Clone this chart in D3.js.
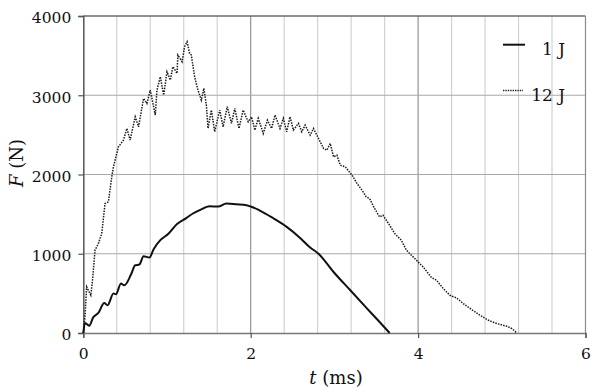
<!DOCTYPE html>
<html>
<head>
<meta charset="utf-8">
<script src="https://cdn.jsdelivr.net/npm/d3@7.9.0/dist/d3.min.js"></script>
<style>
  body { margin: 0; background: #fff; }
  svg { display: block; font-family: "DejaVu Serif", "Liberation Serif", serif; }
</style>
</head>
<body>
<svg id="chart" width="600" height="392"></svg>
<script>
// [t (ms), F (N)]
const series1J = [
  [0, 0], [0.02, 126], [0.07, 93], [0.12, 200], [0.18, 253], [0.25, 379], [0.29, 350],
  [0.36, 497], [0.39, 489], [0.45, 624], [0.49, 602], [0.57, 738], [0.62, 855], [0.67, 864],
  [0.72, 969], [0.79, 952], [0.84, 1057], [0.92, 1171], [1.02, 1255], [1.12, 1375],
  [1.23, 1450], [1.31, 1508], [1.39, 1550], [1.51, 1600], [1.61, 1595], [1.71, 1634],
  [1.83, 1624], [1.95, 1613], [2.11, 1545], [2.27, 1448], [2.43, 1339], [2.59, 1200],
  [2.71, 1079], [2.81, 1000], [2.99, 770], [3.19, 539], [3.38, 321], [3.54, 139], [3.66, 0]
];

const series12J = [
  [0, 0], [0.02, 202], [0.04, 581], [0.09, 476], [0.11, 666], [0.14, 1045], [0.18, 1129],
  [0.22, 1255], [0.26, 1634], [0.30, 1655], [0.34, 1970], [0.36, 2097], [0.42, 2349],
  [0.48, 2434], [0.52, 2581], [0.56, 2434], [0.62, 2728], [0.66, 2602], [0.72, 2960],
  [0.76, 2897], [0.80, 3065], [0.86, 2750], [0.88, 3065], [0.92, 3233], [0.96, 3002],
  [1.00, 3296], [1.04, 3192], [1.07, 3360], [1.12, 3276], [1.13, 3507], [1.18, 3423],
  [1.21, 3612], [1.24, 3675], [1.27, 3529], [1.29, 3507], [1.33, 3233], [1.37, 3065],
  [1.41, 2939], [1.44, 3087], [1.47, 2876], [1.49, 2581], [1.53, 2813], [1.57, 2539],
  [1.63, 2813], [1.67, 2602], [1.72, 2855], [1.77, 2645], [1.81, 2834], [1.86, 2581],
  [1.91, 2813], [1.97, 2665], [2.01, 2728], [2.05, 2560], [2.09, 2708], [2.15, 2518],
  [2.20, 2686], [2.25, 2581], [2.29, 2750], [2.35, 2581], [2.39, 2708], [2.43, 2539],
  [2.47, 2728], [2.51, 2560], [2.57, 2645], [2.61, 2539], [2.65, 2623], [2.71, 2497],
  [2.75, 2581], [2.81, 2455], [2.87, 2329], [2.91, 2307], [2.95, 2392], [2.99, 2223],
  [3.03, 2244], [3.07, 2118], [3.13, 2097], [3.21, 1992], [3.27, 1887], [3.33, 1802],
  [3.38, 1718], [3.42, 1697], [3.48, 1571], [3.54, 1465], [3.58, 1487], [3.66, 1360],
  [3.72, 1255], [3.80, 1171], [3.86, 1045], [3.98, 918], [4.06, 834], [4.16, 700],
  [4.22, 666], [4.30, 561], [4.38, 476], [4.46, 442], [4.54, 371], [4.64, 296],
  [4.74, 224], [4.84, 160], [4.94, 119], [5.06, 85], [5.12, 56], [5.18, 0]
];

const xTicks = [0, 2, 4, 6];
const xGrid = d3.range(0, 6.01, 0.4);
const yTicks = [0, 1000, 2000, 3000, 4000];
const legendLabels = ["1 J", "12 J"];

const svg = d3.select('#chart');
const margin = { top: 16, right: 14.5, bottom: 59, left: 83.3 };
const width = 600, height = 392;

const x = d3.scaleLinear().domain([0, 6]).range([margin.left, width - margin.right]);
const y = d3.scaleLinear().domain([0, 4000]).range([height - margin.bottom, margin.top]);

// vertical gridlines every 0.4 ms (the ones at 2 and 4 are darker)
svg.append('g')
  .selectAll('line')
  .data(xGrid.filter(d => d > 0.01 && d < 5.99))
  .join('line')
  .attr('x1', d => x(d)).attr('x2', d => x(d))
  .attr('y1', y(0)).attr('y2', y(4000))
  .attr('stroke', d => (Math.abs(d - 2) < 0.01 || Math.abs(d - 4) < 0.01) ? '#8a8a8a' : '#cfcfcf')
  .attr('stroke-width', 1.1);

// horizontal gridlines
svg.append('g')
  .selectAll('line')
  .data([1000, 2000, 3000])
  .join('line')
  .attr('x1', x(0)).attr('x2', x(6))
  .attr('y1', d => y(d)).attr('y2', d => y(d))
  .attr('stroke', '#a8a8a8')
  .attr('stroke-width', 1.2);

// frame
svg.append('line').attr('x1', x(0)).attr('x2', x(6)).attr('y1', y(4000)).attr('y2', y(4000))
  .attr('stroke', '#6a6a6a').attr('stroke-width', 1.3);
svg.append('line').attr('x1', x(6)).attr('x2', x(6)).attr('y1', y(0)).attr('y2', y(4000))
  .attr('stroke', '#8a8a8a').attr('stroke-width', 1.2);

// axes
const yAxis = svg.append('g')
  .attr('transform', `translate(${x(0)},0)`)
  .call(d3.axisLeft(y).tickValues(yTicks).tickSize(5).tickPadding(7).tickFormat(d3.format('d')));
yAxis.select('.domain').attr('stroke', '#555').attr('stroke-width', 1.5);
yAxis.selectAll('.tick line').attr('stroke', '#555').attr('stroke-width', 1.2);
yAxis.selectAll('text').attr('font-size', 15.5).attr('fill', '#111')
  .attr('font-family', '"DejaVu Serif", serif').attr('dy', '0.45em');

const xAxis = svg.append('g')
  .attr('transform', `translate(0,${y(0)})`)
  .call(d3.axisBottom(x).tickValues(xTicks).tickSize(5).tickPadding(10).tickFormat(d3.format('d')));
xAxis.select('.domain').attr('stroke', '#777').attr('stroke-width', 1.5);
xAxis.selectAll('.tick line').attr('stroke', '#555').attr('stroke-width', 1.2);
xAxis.selectAll('text').attr('font-size', 15.5).attr('fill', '#111')
  .attr('font-family', '"DejaVu Serif", serif');

// curves
const line = d3.line().x(d => x(d[0])).y(d => y(d[1]));
const smoothLine = d3.line().curve(d3.curveMonotoneX).x(d => x(d[0])).y(d => y(d[1]));

svg.append('path')
  .datum(series12J)
  .attr('fill', 'none')
  .attr('stroke', '#1a1a1a')
  .attr('stroke-width', 1.5)
  .attr('stroke-dasharray', '1.5,1.2')
  .attr('d', line);

svg.append('path')
  .datum(series1J)
  .attr('fill', 'none')
  .attr('stroke', '#111')
  .attr('stroke-width', 2)
  .attr('stroke-linejoin', 'round')
  .attr('d', smoothLine);

// legend
const legend = svg.append('g');
legend.append('line').attr('x1', 503).attr('x2', 525).attr('y1', 44.7).attr('y2', 44.7)
  .attr('stroke', '#111').attr('stroke-width', 2);
legend.append('line').attr('x1', 503).attr('x2', 523).attr('y1', 90.5).attr('y2', 90.5)
  .attr('stroke', '#222').attr('stroke-width', 1.3).attr('stroke-dasharray', '1.4,1');
legend.selectAll('text')
  .data(legendLabels)
  .join('text')
  .attr('x', 565)
  .attr('y', (d, i) => i === 0 ? 55 : 101)
  .attr('text-anchor', 'end')
  .attr('font-size', 17)
  .attr('fill', '#111')
  .text(d => d);

// axis titles
svg.append('text')
  .attr('transform', `translate(23,${163}) rotate(-90)`)
  .attr('text-anchor', 'middle')
  .attr('font-size', 18)
  .attr('fill', '#111')
  .html('<tspan font-style="italic">F</tspan> (N)');

svg.append('text')
  .attr('x', 336)
  .attr('y', 384)
  .attr('text-anchor', 'middle')
  .attr('font-size', 18)
  .attr('fill', '#111')
  .html('<tspan font-style="italic">t</tspan> (ms)');
</script>
</body>
</html>
